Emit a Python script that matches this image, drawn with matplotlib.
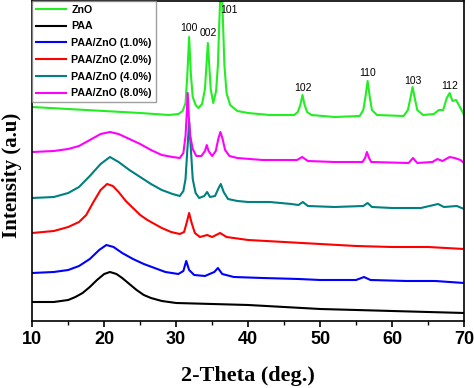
import numpy as np
import matplotlib
matplotlib.use('Agg')
import matplotlib.pyplot as plt

# XRD patterns (intensity in arbitrary, stacked units)
zno_x = [10, 15, 20, 25, 29, 30.3, 30.9, 31.3, 31.55, 31.8, 32.05, 32.3, 32.7, 33.1, 33.6, 34.0,
         34.2, 34.4, 34.6, 34.8, 35.15, 35.55, 35.8, 36.0, 36.25, 36.5, 36.7, 37.0, 37.5, 38.5,
         40, 43, 46.4, 46.9, 47.25, 47.55, 47.85, 48.2, 48.8, 52, 55.5, 56.0, 56.3, 56.6, 56.9,
         57.2, 57.9, 61.6, 62.2, 62.55, 62.85, 63.15, 63.5, 64.3, 65.8, 66.5, 67.1, 67.6, 68.0,
         68.4, 68.9, 69.5, 70]
zno_y = [214, 212, 210, 208, 206, 207, 210, 218, 246, 284, 246, 224, 216, 213, 217, 232,
         255, 278, 255, 232, 218, 230, 256, 300, 346, 300, 256, 228, 216, 210,
         208, 206, 206, 209, 216, 226, 216, 209, 206, 204, 205, 211, 224, 240, 224,
         211, 206, 205, 211, 223, 234, 223, 211, 206, 207, 211, 211, 223, 228,
         220, 221, 213, 206]

paa_x = [10, 13, 15, 16, 17, 18, 19, 20, 20.8, 21.7, 22.5, 23.5, 24.5, 25.5, 26.5, 28, 30,
         35, 40, 45, 50, 55, 60, 65, 70]
paa_y = [19, 19, 21, 24, 28, 34, 41, 47, 49, 47, 43, 37, 31, 26, 23, 20, 18,
         17, 16, 14, 12, 11, 10, 9, 8]

p1_x = [10, 13, 15, 16.5, 18, 19.3, 20.3, 21.3, 22.5, 24, 25.5, 27, 28.5, 30.3, 31.0, 31.4,
        31.8, 32.5, 34, 35.3, 35.8, 36.4, 38, 42, 47, 50, 55, 56.1, 57, 62, 66, 70]
p1_y = [48, 49, 51, 55, 62, 71, 76, 74, 68, 62, 57, 53, 49, 47, 50, 60,
        51, 46, 45, 49, 53, 47, 44, 43, 42, 41, 41, 44, 41, 40, 40, 38]

p2_x = [10, 13, 15, 16.5, 17.5, 18.5, 19.5, 20.4, 21.2, 22, 23, 24, 25, 26, 27, 28, 29.3,
        30.5, 31.1, 31.45, 31.8, 32.15, 32.6, 33.3, 34.3, 35, 36.1, 37, 40, 45, 50, 55, 60,
        65, 70]
p2_y = [88, 90, 94, 99, 106, 119, 131, 137, 135, 129, 120, 113, 106, 101, 97, 93, 89,
        87, 89, 98, 108, 98, 88, 84, 86, 84, 88, 84, 81, 79, 77, 75, 74,
        74, 72]

p4_x = [10, 13, 15, 16.5, 18, 19.5, 20.8, 22, 23.5, 25, 26.5, 28, 29.5, 30.5, 31.0, 31.3,
        31.55, 31.8, 32.05, 32.3, 32.7, 33.2, 33.9, 34.3, 34.7, 35.4, 35.9, 36.2, 36.6, 37.2,
        38.5, 40, 43, 46, 47.0, 47.6, 48.3, 52, 56, 56.6, 57.2, 60, 64, 66.4, 67.2, 69, 70]
p4_y = [123, 124, 128, 134, 145, 157, 164, 159, 151, 144, 137, 131, 127, 125, 130, 142,
        171, 199, 171, 142, 128, 123, 125, 129, 124, 125, 133, 137, 129, 122,
        120, 119, 119, 117, 116, 119, 115, 114, 115, 118, 114, 113, 113, 117, 114, 115, 112]

p8_x = [10, 13, 15, 16.5, 18, 19.5, 20.8, 22, 23.5, 25, 26.5, 28, 29.5, 30.5, 31.0, 31.3,
        31.45, 31.6, 31.75, 31.95, 32.3, 32.8, 33.5, 34.0, 34.25, 34.5, 35.0, 35.5, 35.85,
        36.15, 36.45, 36.8, 37.4, 38.5, 42, 46.8, 47.5, 48.3, 52, 55.9, 56.25, 56.5, 56.8,
        57.1, 62.3, 62.9, 63.5, 65.6, 66.3, 67, 68, 68.7, 69.5, 70]
p8_y = [169, 170, 172, 175, 181, 187, 189, 187, 182, 177, 171, 166, 164, 163, 168, 185,
        205, 228, 205, 185, 172, 165, 165, 170, 176, 170, 165, 170, 182,
        189, 182, 171, 165, 163, 161, 161, 164, 160, 159, 159, 163, 169, 163,
        159, 158, 163, 158, 159, 162, 160, 164, 163, 161, 158]

# hkl labels for ZnO peaks
hkl = ['100', '002', '101', '102', '110', '103', '112']
hkl_x = [31.8, 34.4, 37.3, 47.6, 56.6, 62.9, 68.0]
hkl_y = [293, 288, 311, 233, 248, 240, 235]

fig = plt.figure(figsize=(4.74, 3.88), dpi=100)
ax = fig.add_axes([0.068, 0.1727, 0.911, 0.8247])

lw = 1.5
ax.plot(zno_x, zno_y, color='#22ee22', lw=lw, label='ZnO')
ax.plot(paa_x, paa_y, color='black', lw=lw, label='PAA')
ax.plot(p1_x, p1_y, color='#0000ff', lw=lw, label='PAA/ZnO (1.0%)')
ax.plot(p2_x, p2_y, color='#ff0000', lw=lw, label='PAA/ZnO (2.0%)')
ax.plot(p4_x, p4_y, color='#008080', lw=lw, label='PAA/ZnO (4.0%)')
ax.plot(p8_x, p8_y, color='#ff00ff', lw=lw, label='PAA/ZnO (8.0%)')

for lab, px, py in zip(hkl, hkl_x, hkl_y):
    ax.text(px, py, lab, ha='center', va='center', fontsize=7.5,
            family='Liberation Sans')

ax.set_xlim(10, 70)
ax.set_ylim(0, 320)
ax.set_xticks(range(10, 71, 10))
ax.set_xticks(range(15, 70, 10), minor=True)
ax.set_yticks([])
ax.tick_params(axis='x', which='major', direction='out', length=4, width=1.2)
ax.tick_params(axis='x', which='minor', direction='out', length=3, width=1.0)
for lbl in ax.get_xticklabels():
    lbl.set_fontweight('bold')
    lbl.set_fontsize(13)
    lbl.set_family('Liberation Sans')
for s in ax.spines.values():
    s.set_linewidth(1.2)

ax.set_xlabel('2-Theta (deg.)', family='Liberation Serif', fontweight='bold',
              fontsize=16, labelpad=13)
fig.text(0.026, 0.547, 'Intensity (a.u)', rotation=90, ha='center', va='center',
         family='Liberation Serif', fontweight='bold', fontsize=15)

leg = ax.legend(loc='upper left', borderaxespad=0, fancybox=False,
                prop={'family': 'Liberation Sans', 'weight': 'bold', 'size': 7.7},
                handlelength=2.8, labelspacing=0.63, borderpad=0.35, handletextpad=0.5)
leg.get_frame().set_edgecolor('#888888')
leg.get_frame().set_linewidth(1.0)

fig.savefig('out.png', dpi=100)
